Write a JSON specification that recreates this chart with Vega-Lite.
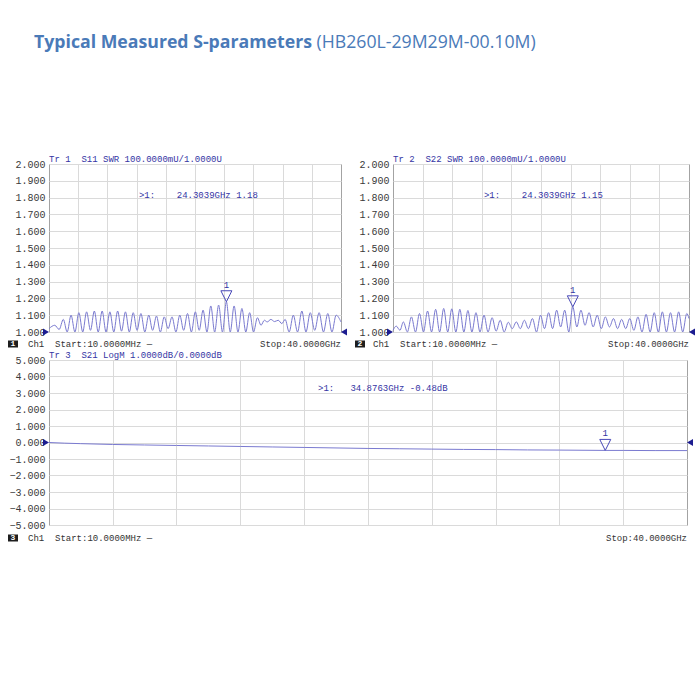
{
  "$schema": "https://vega.github.io/schema/vega-lite/v6.json",
  "background": "white",
  "padding": {"left": 7, "top": 33, "right": 4, "bottom": 4},
  "config": {
    "view": {"stroke": "#a3a3a3", "strokeWidth": 1},
    "axis": {"grid": true, "gridColor": "#dadada", "gridWidth": 1, "domain": false, "ticks": false, "labelFont": "Liberation Mono", "labelFontSize": 10, "labelColor": "#3a3a3a", "labelPadding": 4, "labelOverlap": false, "labelFlush": false},
    "text": {"font": "Liberation Mono", "fontSize": 9}
  },
  "datasets": {
    "s11": [
      {"f":0.01,"v":1.02},{"f":0.8,"v":1.04},{"f":1.4,"v":1.015},{"f":1.97,"v":1.075},{"f":2.5,"v":1.0},{"f":3.03,"v":1.1},{"f":3.56,"v":1.0},{"f":4.1,"v":1.115},{"f":4.63,"v":1.0},{"f":5.16,"v":1.12},{"f":5.69,"v":1.01},{"f":6.22,"v":1.125},{"f":6.75,"v":1.0},{"f":7.29,"v":1.125},{"f":7.82,"v":1.0},{"f":8.35,"v":1.12},{"f":8.88,"v":1.0},{"f":9.41,"v":1.125},{"f":9.94,"v":1.005},{"f":10.48,"v":1.12},{"f":11.01,"v":1.0},{"f":11.54,"v":1.115},{"f":12.07,"v":1.01},{"f":12.6,"v":1.11},{"f":13.13,"v":1.0},{"f":13.67,"v":1.1},{"f":14.2,"v":1.01},{"f":14.73,"v":1.095},{"f":15.26,"v":1.0},{"f":15.79,"v":1.09},{"f":16.32,"v":1.02},{"f":16.86,"v":1.09},{"f":17.39,"v":1.0},{"f":17.92,"v":1.1},{"f":18.45,"v":1.01},{"f":18.98,"v":1.11},{"f":19.51,"v":1.0},{"f":20.05,"v":1.12},{"f":20.58,"v":1.01},{"f":21.11,"v":1.13},{"f":21.64,"v":1.0},{"f":22.17,"v":1.155},{"f":22.7,"v":1.0},{"f":23.24,"v":1.16},{"f":23.77,"v":1.0},{"f":24.3,"v":1.18},{"f":24.83,"v":1.0},{"f":25.36,"v":1.155},{"f":25.89,"v":1.0},{"f":26.43,"v":1.14},{"f":26.96,"v":1.0},{"f":27.49,"v":1.115},{"f":28.02,"v":1.0},{"f":28.55,"v":1.085},{"f":29.05,"v":1.04},{"f":29.5,"v":1.07},{"f":29.9,"v":1.06},{"f":30.4,"v":1.075},{"f":30.9,"v":1.062},{"f":31.4,"v":1.07},{"f":31.9,"v":1.05},{"f":32.35,"v":1.075},{"f":32.9,"v":1.0},{"f":33.47,"v":1.1},{"f":34.05,"v":1.0},{"f":34.64,"v":1.125},{"f":35.2,"v":1.0},{"f":35.79,"v":1.115},{"f":36.4,"v":1.01},{"f":37.0,"v":1.115},{"f":37.6,"v":1.0},{"f":38.19,"v":1.11},{"f":38.76,"v":1.0},{"f":39.33,"v":1.1},{"f":40,"v":1.06}
    ],
    "s22": [
      {"f":0.01,"v":1.01},{"f":0.45,"v":1.035},{"f":0.95,"v":1.01},{"f":1.41,"v":1.06},{"f":1.95,"v":1.0},{"f":2.5,"v":1.09},{"f":3.05,"v":1.0},{"f":3.59,"v":1.11},{"f":4.13,"v":1.0},{"f":4.68,"v":1.125},{"f":5.22,"v":1.0},{"f":5.77,"v":1.135},{"f":6.31,"v":1.0},{"f":6.86,"v":1.14},{"f":7.4,"v":1.0},{"f":7.95,"v":1.138},{"f":8.5,"v":1.0},{"f":9.04,"v":1.135},{"f":9.58,"v":1.0},{"f":10.13,"v":1.128},{"f":10.67,"v":1.0},{"f":11.22,"v":1.115},{"f":11.76,"v":1.0},{"f":12.31,"v":1.1},{"f":12.85,"v":1.0},{"f":13.4,"v":1.085},{"f":13.94,"v":1.005},{"f":14.49,"v":1.07},{"f":15.03,"v":1.0},{"f":15.58,"v":1.058},{"f":16.12,"v":1.02},{"f":16.67,"v":1.06},{"f":17.21,"v":1.02},{"f":17.76,"v":1.07},{"f":18.3,"v":1.02},{"f":18.85,"v":1.08},{"f":19.4,"v":1.0},{"f":19.94,"v":1.1},{"f":20.48,"v":1.02},{"f":21.03,"v":1.115},{"f":21.57,"v":1.02},{"f":22.12,"v":1.13},{"f":22.66,"v":1.03},{"f":23.21,"v":1.13},{"f":23.76,"v":1.0},{"f":24.3,"v":1.15},{"f":24.85,"v":1.03},{"f":25.4,"v":1.13},{"f":25.95,"v":1.04},{"f":26.5,"v":1.115},{"f":27.05,"v":1.03},{"f":27.6,"v":1.1},{"f":28.15,"v":1.02},{"f":28.7,"v":1.09},{"f":29.25,"v":1.03},{"f":29.8,"v":1.08},{"f":30.35,"v":1.02},{"f":30.9,"v":1.075},{"f":31.45,"v":1.02},{"f":32.0,"v":1.08},{"f":32.55,"v":1.01},{"f":33.1,"v":1.09},{"f":33.65,"v":1.0},{"f":34.2,"v":1.105},{"f":34.75,"v":1.0},{"f":35.3,"v":1.115},{"f":35.85,"v":1.0},{"f":36.4,"v":1.12},{"f":36.95,"v":1.0},{"f":37.5,"v":1.115},{"f":38.05,"v":1.0},{"f":38.6,"v":1.12},{"f":39.15,"v":1.0},{"f":39.7,"v":1.11},{"f":40,"v":1.08}
    ],
    "s21": [
      {"f":0.01,"v":0.0},{"f":1,"v":-0.04},{"f":2,"v":-0.07},{"f":4,"v":-0.12},{"f":6,"v":-0.15},{"f":8,"v":-0.18},{"f":10,"v":-0.21},{"f":12,"v":-0.24},{"f":14,"v":-0.27},{"f":16,"v":-0.3},{"f":18,"v":-0.33},{"f":20,"v":-0.36},{"f":22,"v":-0.38},{"f":24,"v":-0.4},{"f":26,"v":-0.42},{"f":28,"v":-0.43},{"f":30,"v":-0.45},{"f":32,"v":-0.46},{"f":34.88,"v":-0.48},{"f":36,"v":-0.48},{"f":38,"v":-0.49},{"f":40,"v":-0.49}
    ]
  },
  "title": {
    "text": "(HB260L-29M29M-00.10M)",
    "anchor": "start", "frame": "bounds",
    "font": "Open Sans", "fontSize": 17.7, "fontWeight": "normal", "color": "#4a7ab8",
    "offset": -18, "dx": 309
  },
  "spacing": 0,
  "vconcat": [
    {
      "bounds": "flush",
      "spacing": 52,
      "title": {"text": "Typical Measured S-parameters", "anchor": "start", "frame": "group", "font": "Open Sans", "fontSize": 17.7, "fontWeight": "bold", "color": "#4a7ab8", "offset": 0, "dx": -15, "dy": -103},
      "hconcat": [
        {
          "width": 292, "height": 168,
          "title": {"text": "Tr 1\u00a0\u00a0S11 SWR 100.0000mU/1.0000U", "anchor": "start", "frame": "group", "font": "Liberation Mono", "fontSize": 9, "fontWeight": "normal", "color": "#3434a4", "offset": -5},
          "layer": [
            {
              "data": {"name": "s11"},
              "mark": {"type": "line", "interpolate": "monotone", "color": "#7a7ad0", "strokeWidth": 1},
              "encoding": {
                "x": {"field": "f", "type": "quantitative", "scale": {"domain": [0.01, 40], "nice": false, "zero": false}, "axis": {"values": [4,8,12,16,20,24,28,32,36], "tickCount": 20, "labels": false, "title": null}},
                "y": {"field": "v", "type": "quantitative", "scale": {"domain": [1, 2], "nice": false, "zero": false}, "axis": {"values": [1,1.1,1.2,1.3,1.4,1.5,1.6,1.7,1.8,1.9,2], "tickCount": 20, "format": ".3f", "title": null, "labelOverlap": false}}
              }
            },
            {
              "data": {"values": [{"f": 24.3039, "v": 1.18, "id": "1", "label": ">1:\u00a0\u00a0\u00a0\u00a024.3039GHz\u00a01.18"}]},
              "layer": [
                {"mark": {"type": "point", "shape": "M-1,-2L1,-2L0,0Z", "size": 121, "filled": false, "color": "#4848b8", "strokeWidth": 1, "opacity": 1},
                 "encoding": {"x": {"field": "f", "type": "quantitative"}, "y": {"field": "v", "type": "quantitative"}}},
                {"mark": {"type": "text", "dy": -12, "baseline": "bottom", "align": "center", "color": "#3434a4"},
                 "encoding": {"x": {"field": "f", "type": "quantitative"}, "y": {"field": "v", "type": "quantitative"}, "text": {"field": "id"}}},
                {"mark": {"type": "text", "baseline": "middle", "align": "left", "color": "#3434a4"},
                 "encoding": {"x": {"datum": 12.33}, "y": {"datum": 1.815}, "text": {"field": "label"}}}
              ]
            },
            {
              "data": {"values": [{"num": "1", "start": "Ch1\u00a0\u00a0Start:10.0000MHz\u00a0\u2014", "stop": "Stop:40.0000GHz"}]},
              "layer": [
                {"mark": {"type": "point", "shape": "M-1,-1.2L1,0L-1,1.2Z", "size": 36, "filled": true, "color": "#1c1c90", "opacity": 1, "xOffset": -3},
                 "encoding": {"x": {"datum": 0.01}, "y": {"datum": 1}}},
                {"mark": {"type": "point", "shape": "M1,-1.2L-1,0L1,1.2Z", "size": 36, "filled": true, "color": "#1c1c90", "opacity": 1, "xOffset": 3},
                 "encoding": {"x": {"datum": 40}, "y": {"datum": 1}}},
                {"mark": {"type": "point", "shape": "M-1,-0.7L1,-0.7L1,0.7L-1,0.7Z", "size": 100, "filled": true, "color": "#1e1e1e", "opacity": 1, "xOffset": -36, "yOffset": 12},
                 "encoding": {"x": {"datum": 0.01}, "y": {"datum": 1}}},
                {"mark": {"type": "text", "dx": -36, "dy": 12, "align": "center", "baseline": "middle", "color": "white", "fontSize": 8, "fontWeight": "bold"},
                 "encoding": {"x": {"datum": 0.01}, "y": {"datum": 1}, "text": {"field": "num"}}},
                {"mark": {"type": "text", "dx": -21, "dy": 12, "align": "left", "baseline": "middle", "color": "#333333"},
                 "encoding": {"x": {"datum": 0.01}, "y": {"datum": 1}, "text": {"field": "start"}}},
                {"mark": {"type": "text", "dy": 12, "align": "right", "baseline": "middle", "color": "#333333"},
                 "encoding": {"x": {"datum": 40}, "y": {"datum": 1}, "text": {"field": "stop"}}}
              ]
            }
          ]
        },
        {
          "width": 296, "height": 168,
          "title": {"text": "Tr 2\u00a0\u00a0S22 SWR 100.0000mU/1.0000U", "anchor": "start", "frame": "group", "font": "Liberation Mono", "fontSize": 9, "fontWeight": "normal", "color": "#3434a4", "offset": -5},
          "layer": [
            {
              "data": {"name": "s22"},
              "mark": {"type": "line", "interpolate": "monotone", "color": "#7a7ad0", "strokeWidth": 1},
              "encoding": {
                "x": {"field": "f", "type": "quantitative", "scale": {"domain": [0.01, 40], "nice": false, "zero": false}, "axis": {"values": [4,8,12,16,20,24,28,32,36], "tickCount": 20, "labels": false, "title": null}},
                "y": {"field": "v", "type": "quantitative", "scale": {"domain": [1, 2], "nice": false, "zero": false}, "axis": {"values": [1,1.1,1.2,1.3,1.4,1.5,1.6,1.7,1.8,1.9,2], "tickCount": 20, "format": ".3f", "title": null, "labelOverlap": false}}
              }
            },
            {
              "data": {"values": [{"f": 24.3039, "v": 1.15, "id": "1", "label": ">1:\u00a0\u00a0\u00a0\u00a024.3039GHz\u00a01.15"}]},
              "layer": [
                {"mark": {"type": "point", "shape": "M-1,-2L1,-2L0,0Z", "size": 121, "filled": false, "color": "#4848b8", "strokeWidth": 1, "opacity": 1},
                 "encoding": {"x": {"field": "f", "type": "quantitative"}, "y": {"field": "v", "type": "quantitative"}}},
                {"mark": {"type": "text", "dy": -12, "baseline": "bottom", "align": "center", "color": "#3434a4"},
                 "encoding": {"x": {"field": "f", "type": "quantitative"}, "y": {"field": "v", "type": "quantitative"}, "text": {"field": "id"}}},
                {"mark": {"type": "text", "baseline": "middle", "align": "left", "color": "#3434a4"},
                 "encoding": {"x": {"datum": 12.3}, "y": {"datum": 1.815}, "text": {"field": "label"}}}
              ]
            },
            {
              "data": {"values": [{"num": "2", "start": "Ch1\u00a0\u00a0Start:10.0000MHz\u00a0\u2014", "stop": "Stop:40.0000GHz"}]},
              "layer": [
                {"mark": {"type": "point", "shape": "M-1,-1.2L1,0L-1,1.2Z", "size": 36, "filled": true, "color": "#1c1c90", "opacity": 1, "xOffset": -3},
                 "encoding": {"x": {"datum": 0.01}, "y": {"datum": 1}}},
                {"mark": {"type": "point", "shape": "M1,-1.2L-1,0L1,1.2Z", "size": 36, "filled": true, "color": "#1c1c90", "opacity": 1, "xOffset": 3},
                 "encoding": {"x": {"datum": 40}, "y": {"datum": 1}}},
                {"mark": {"type": "point", "shape": "M-1,-0.7L1,-0.7L1,0.7L-1,0.7Z", "size": 100, "filled": true, "color": "#1e1e1e", "opacity": 1, "xOffset": -33, "yOffset": 12},
                 "encoding": {"x": {"datum": 0.01}, "y": {"datum": 1}}},
                {"mark": {"type": "text", "dx": -33, "dy": 12, "align": "center", "baseline": "middle", "color": "white", "fontSize": 8, "fontWeight": "bold"},
                 "encoding": {"x": {"datum": 0.01}, "y": {"datum": 1}, "text": {"field": "num"}}},
                {"mark": {"type": "text", "dx": -20, "dy": 12, "align": "left", "baseline": "middle", "color": "#333333"},
                 "encoding": {"x": {"datum": 0.01}, "y": {"datum": 1}, "text": {"field": "start"}}},
                {"mark": {"type": "text", "dy": 12, "align": "right", "baseline": "middle", "color": "#333333"},
                 "encoding": {"x": {"datum": 40}, "y": {"datum": 1}, "text": {"field": "stop"}}}
              ]
            }
          ]
        }
      ]
    },
    {
      "width": 638, "height": 165,
      "title": {"text": "Tr 3\u00a0\u00a0S21 LogM 1.0000dB/0.0000dB", "anchor": "start", "frame": "group", "font": "Liberation Mono", "fontSize": 9, "fontWeight": "normal", "color": "#3434a4", "offset": -5},
      "layer": [
        {
          "data": {"name": "s21"},
          "mark": {"type": "line", "interpolate": "monotone", "color": "#7a7ad0", "strokeWidth": 1},
          "encoding": {
            "x": {"field": "f", "type": "quantitative", "scale": {"domain": [0.01, 40], "nice": false, "zero": false}, "axis": {"values": [4,8,12,16,20,24,28,32,36], "tickCount": 20, "labels": false, "title": null}},
            "y": {"field": "v", "type": "quantitative", "scale": {"domain": [-5, 5], "nice": false, "zero": false}, "axis": {"values": [-5,-4,-3,-2,-1,0,1,2,3,4,5], "tickCount": 20, "format": ".3f", "title": null, "labelOverlap": false}}
          }
        },
        {
          "data": {"values": [{"f": 34.8763, "v": -0.48, "id": "1", "label": ">1:\u00a0\u00a0\u00a034.8763GHz\u00a0-0.48dB"}]},
          "layer": [
            {"mark": {"type": "point", "shape": "M-1,-2L1,-2L0,0Z", "size": 121, "filled": false, "color": "#4848b8", "strokeWidth": 1, "opacity": 1},
             "encoding": {"x": {"field": "f", "type": "quantitative"}, "y": {"field": "v", "type": "quantitative"}}},
            {"mark": {"type": "text", "dy": -12, "baseline": "bottom", "align": "center", "color": "#3434a4"},
             "encoding": {"x": {"field": "f", "type": "quantitative"}, "y": {"field": "v", "type": "quantitative"}, "text": {"field": "id"}}},
            {"mark": {"type": "text", "baseline": "middle", "align": "left", "color": "#3434a4"},
             "encoding": {"x": {"datum": 16.87}, "y": {"datum": 3.3}, "text": {"field": "label"}}}
          ]
        },
        {
          "data": {"values": [{"num": "3", "start": "Ch1\u00a0\u00a0Start:10.0000MHz\u00a0\u2014", "stop": "Stop:40.0000GHz"}]},
          "layer": [
            {"mark": {"type": "point", "shape": "M-1,-1.2L1,0L-1,1.2Z", "size": 36, "filled": true, "color": "#1c1c90", "opacity": 1, "xOffset": -3},
             "encoding": {"x": {"datum": 0.01}, "y": {"datum": 0}}},
            {"mark": {"type": "point", "shape": "M1,-1.2L-1,0L1,1.2Z", "size": 36, "filled": true, "color": "#1c1c90", "opacity": 1, "xOffset": 3},
             "encoding": {"x": {"datum": 40}, "y": {"datum": 0}}},
            {"mark": {"type": "point", "shape": "M-1,-0.7L1,-0.7L1,0.7L-1,0.7Z", "size": 100, "filled": true, "color": "#1e1e1e", "opacity": 1, "xOffset": -36, "yOffset": 13},
             "encoding": {"x": {"datum": 0.01}, "y": {"datum": -5}}},
            {"mark": {"type": "text", "dx": -36, "dy": 13, "align": "center", "baseline": "middle", "color": "white", "fontSize": 8, "fontWeight": "bold"},
             "encoding": {"x": {"datum": 0.01}, "y": {"datum": -5}, "text": {"field": "num"}}},
            {"mark": {"type": "text", "dx": -21, "dy": 13, "align": "left", "baseline": "middle", "color": "#333333"},
             "encoding": {"x": {"datum": 0.01}, "y": {"datum": -5}, "text": {"field": "start"}}},
            {"mark": {"type": "text", "dy": 13, "align": "right", "baseline": "middle", "color": "#333333"},
             "encoding": {"x": {"datum": 40}, "y": {"datum": -5}, "text": {"field": "stop"}}}
          ]
        }
      ]
    }
  ]
}
